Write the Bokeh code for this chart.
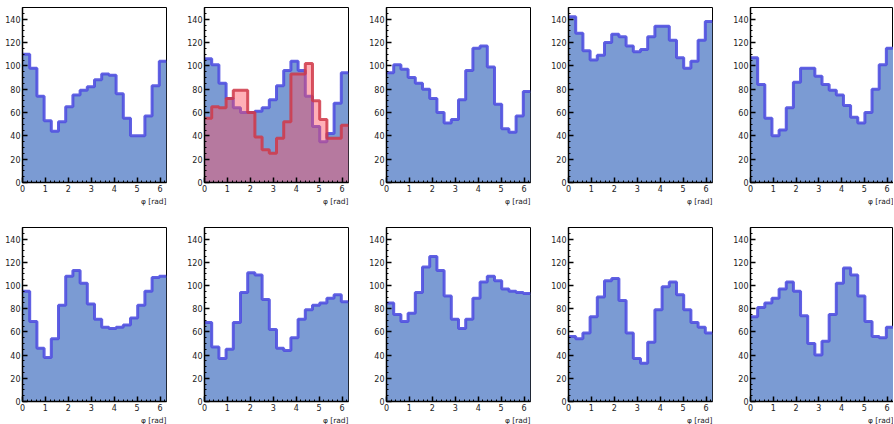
import numpy as np
from bokeh.plotting import figure
from bokeh.layouts import gridplot
from bokeh.models import Range1d, FixedTicker, Title
from bokeh.embed import file_html
from bokeh.resources import INLINE

# ---- data ----
n_bins = 20
bin_edges = list(np.linspace(0, 2 * np.pi, n_bins + 1))
x_ticks = [0, 1, 2, 3, 4, 5, 6]
y_ticks = [0, 20, 40, 60, 80, 100, 120, 140]
x_label = "φ [rad]"

h1 = [110, 98, 74, 53, 44, 52, 65, 75, 79, 82, 88, 93, 92, 76, 55, 40, 40, 57, 83, 104]
h2 = [106, 101, 85, 72, 64, 60, 60, 61, 64, 71, 83, 96, 104, 96, 74, 48, 35, 42, 68, 94]
h2_red = [55, 65, 64, 72, 79, 79, 60, 39, 28, 25, 38, 52, 93, 93, 102, 70, 54, 38, 38, 49]
h3 = [94, 101, 97, 90, 85, 80, 72, 60, 51, 54, 71, 96, 115, 117, 99, 67, 46, 43, 57, 78]
h4 = [142, 128, 113, 105, 109, 120, 127, 125, 117, 112, 114, 125, 134, 134, 122, 107, 98, 104, 122, 138]
h5 = [107, 84, 55, 40, 45, 64, 86, 98, 98, 91, 84, 79, 75, 66, 56, 51, 60, 80, 101, 115]
h6 = [95, 69, 46, 38, 54, 83, 108, 113, 102, 84, 71, 64, 63, 64, 66, 72, 83, 95, 107, 108]
h7 = [68, 47, 37, 45, 68, 94, 111, 109, 88, 62, 46, 44, 55, 71, 79, 83, 85, 89, 92, 86]
h8 = [85, 75, 69, 76, 94, 116, 125, 113, 91, 71, 63, 71, 89, 103, 108, 104, 97, 95, 94, 93]
h9 = [56, 54, 59, 73, 90, 104, 106, 87, 59, 37, 33, 51, 79, 99, 103, 92, 79, 68, 64, 59]
h10 = [73, 81, 85, 89, 97, 103, 95, 74, 50, 40, 52, 75, 102, 115, 109, 91, 69, 56, 55, 64]

panels = [(h1, None), (h2, h2_red), (h3, None), (h4, None), (h5, None),
          (h6, None), (h7, None), (h8, None), (h9, None), (h10, None)]

BLUE_FILL = "#7b9bd3"
BLUE_LINE = "#5050e0"
RED_FILL = "#ff5060"
RED_LINE = "#d03848"
FONT = "DejaVu Sans"


def make_panel(vals, red, row, col):
    width = 182 if col < 4 else 165
    height = 220 if row == 0 else 204
    p = figure(width=width, height=height, output_backend="svg", toolbar_location=None,
               x_range=Range1d(0, 2 * np.pi), y_range=Range1d(0, 150),
               min_border_left=22, min_border_right=(16 if col < 4 else 0),
               min_border_top=7, min_border_bottom=(38 if row == 0 else 0))
    p.xgrid.visible = False
    p.ygrid.visible = False
    p.outline_line_color = "black"
    p.outline_line_width = 1
    p.background_fill_color = "white"
    p.border_fill_color = "white"

    ext = list(vals) + [vals[-1]]
    p.varea_step(x=bin_edges, y1=[0] * len(ext), y2=ext, step_mode="after",
                 fill_color=BLUE_FILL, fill_alpha=1.0)
    p.step(x=bin_edges, y=ext, mode="after", line_color=BLUE_LINE, line_width=3, line_alpha=0.9)
    if red is not None:
        ext_r = list(red) + [red[-1]]
        p.varea_step(x=bin_edges, y1=[0] * len(ext_r), y2=ext_r, step_mode="after",
                     fill_color=RED_FILL, fill_alpha=0.45)
        p.step(x=bin_edges, y=ext_r, mode="after", line_color=RED_LINE, line_width=3, line_alpha=0.85)

    p.xaxis.ticker = FixedTicker(ticks=x_ticks, minor_ticks=list(np.arange(0, 6.4, 0.2)))
    p.yaxis.ticker = FixedTicker(ticks=y_ticks, minor_ticks=list(range(0, 151, 5)))
    for ax in (p.xaxis[0], p.yaxis[0]):
        ax.major_tick_in = 5
        ax.major_tick_out = 0
        ax.minor_tick_in = 2
        ax.minor_tick_out = 0
        ax.axis_line_color = "black"
        ax.axis_line_width = 1.5
        ax.major_tick_line_color = "black"
        ax.major_tick_line_width = 1.5
        ax.minor_tick_line_color = "black"
        ax.minor_tick_line_width = 1
        ax.major_label_text_font = FONT
        ax.major_label_text_font_size = "8px"
        ax.major_label_text_color = "#222222"
        ax.major_label_standoff = 2

    t = Title(text=x_label, align="right", text_font=FONT, text_font_size="7.5px",
              text_font_style="normal", text_color="#222222", standoff=0, offset=0)
    p.add_layout(t, "below")
    return p


figs = []
for i, (vals, red) in enumerate(panels):
    figs.append(make_panel(vals, red, i // 5, i % 5))

grid = gridplot([figs[0:5], figs[5:10]], toolbar_location=None)

open("out.html", "w").write(file_html(grid, INLINE))
